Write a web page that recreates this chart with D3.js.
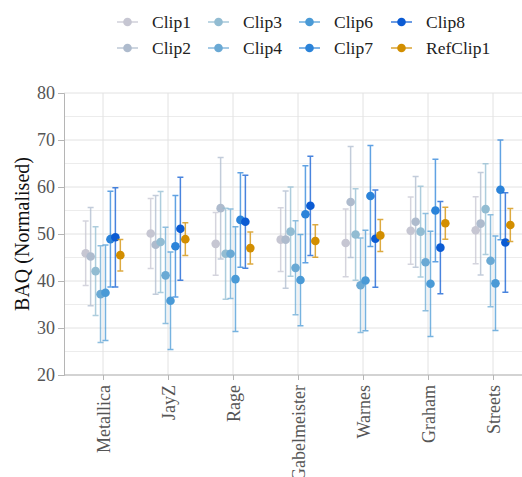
<!DOCTYPE html>
<html>
<head>
<meta charset="utf-8">
<script src="https://cdn.jsdelivr.net/npm/d3@7"></script>
<style>
  body { margin: 0; background: #fff; }
  text { font-family: 'Liberation Serif' !important; }
</style>
</head>
<body>
<div class="chart"></div>
<script>
let w = 522
let h = 477
let serifFont = "'Liberation Serif'";

// categories (singers) and series names
let artists = ["Metallica", "JayZ", "Rage", "Gabelmeister", "Warnes", "Graham", "Streets"];
let clips = ["Clip1", "Clip2", "Clip3", "Clip4", "Clip6", "Clip7", "Clip8", "RefClip1"];
let clipColors = ["#c6c6d2", "#aebbcd", "#92bcd2", "#6aa9d4", "#4a9ad6", "#2b83d9", "#0b5bd3", "#d28e00"];
let yTicks = [20, 30, 40, 50, 60, 70, 80];

// mean value per artist, for each clip
let clip1 = [45.9, 50.1, 47.9, 48.8, 48.1, 50.7, 50.8];
let clip2 = [45.2, 47.7, 55.5, 48.8, 56.8, 52.6, 52.2];
let clip3 = [42.1, 48.3, 45.8, 50.5, 49.9, 50.5, 55.3];
let clip4 = [37.2, 41.2, 45.8, 42.8, 39.1, 44.0, 44.3];
let clip6 = [37.5, 35.8, 40.4, 40.2, 40.1, 39.4, 39.5];
let clip7 = [48.9, 47.4, 53.0, 54.2, 58.1, 55.0, 59.4];
let clip8 = [49.3, 51.1, 52.6, 56.0, 49.0, 47.1, 48.2];
let refClip1 = [45.5, 48.9, 47.0, 48.5, 49.7, 52.3, 51.9];

// error bar half width
let clip1Err = [6.85, 7.45, 6.7, 6.8, 7.2, 7.15, 7.15];
let clip2Err = [10.45, 10.5, 10.8, 10.35, 11.8, 9.65, 10.9];
let clip3Err = [9.45, 10.75, 9.7, 9.5, 9.75, 9.65, 9.65];
let clip4Err = [10.3, 10.25, 9.5, 10.0, 10.05, 10.35, 9.8];
let clip6Err = [10.15, 10.35, 11.15, 9.7, 10.7, 11.2, 10.05];
let clip7Err = [10.2, 10.8, 10.05, 10.3, 10.75, 10.9, 10.6];
let clip8Err = [10.55, 10.95, 9.9, 10.55, 10.35, 9.8, 10.6];
let refClip1Err = [3.35, 3.5, 3.4, 3.45, 3.4, 3.4, 3.5];

let allMeans = [clip1, clip2, clip3, clip4, clip6, clip7, clip8, refClip1];
let allErrs = [clip1Err, clip2Err, clip3Err, clip4Err, clip6Err, clip7Err, clip8Err, refClip1Err];

let margin = {left: 64, right: 0, top: 93, bottom: 102}

let svg = d3.select(".chart")
            .append("svg")
            .attr("width", w)
            .attr("height", h)
            .attr("font-family", "Liberation Serif");

// scales
let x = d3.scalePoint()
  .domain(artists)
  .range([103, 493]);

let offset = d3.scaleBand()
  .domain(clips)
  .range([-19.8, 19.8]);

let y = d3.scaleLinear()
  .domain([20, 80])
  .range([h - margin.bottom, margin.top]);

// ---------------- grid -------------------- //
let minorTicks = d3.range(25, 80, 10);
svg.append("g")
  .selectAll("line")
  .data(minorTicks)
  .enter()
  .append("line")
  .attr("x1", margin.left).attr("x2", w)
  .attr("y1", d => y(d)).attr("y2", d => y(d))
  .attr("stroke", "#ececec");

svg.append("g")
  .selectAll("line")
  .data(yTicks)
  .enter()
  .append("line")
  .attr("x1", margin.left).attr("x2", w)
  .attr("y1", d => y(d)).attr("y2", d => y(d))
  .attr("stroke", "#e2e2e2");

svg.append("g")
  .selectAll("line")
  .data(artists)
  .enter()
  .append("line")
  .attr("x1", d => x(d)).attr("x2", d => x(d))
  .attr("y1", margin.top).attr("y2", y(20))
  .attr("stroke", "#e2e2e2");

// ---------------- axes -------------------- //
let yAxis = svg.append("g")
  .attr("transform", "translate(" + margin.left + ",0)")
  .call(d3.axisLeft(y).tickValues(yTicks).tickSize(6).tickPadding(3))
  .attr("font-family", null);
yAxis.select(".domain").attr("stroke", "#b5b5b5");
yAxis.selectAll(".tick line").attr("stroke", "#b5b5b5");
yAxis.selectAll("text")
  .attr("font-size", 18)
  .attr("fill", "#555")
  .style("font-family", serifFont);

let xAxis = svg.append("g")
  .attr("transform", "translate(0," + y(20) + ")")
  .call(d3.axisBottom(x).tickSize(5).tickSizeOuter(0))
  .attr("font-family", null);
xAxis.select(".domain").attr("stroke", "#b5b5b5").attr("d", "M" + margin.left + ",0H" + w);
xAxis.selectAll(".tick line").attr("stroke", "#b5b5b5");
xAxis.selectAll("text")
  .attr("font-size", 18)
  .attr("fill", "#555")
  .style("font-family", serifFont)
  .attr("transform", "rotate(-90)")
  .attr("text-anchor", "end")
  .attr("x", -10)
  .attr("y", 0)
  .attr("dy", "0.35em");

svg.append("text")
  .attr("transform", "translate(29," + (y(50)) + ") rotate(-90)")
  .attr("text-anchor", "middle")
  .attr("font-size", 20)
  .attr("fill", "#111")
  .style("font-family", serifFont)
  .text("BAQ (Normalised)");

// ---------------- error bars + points -------------------- //
for (let k = 0; k < clips.length; k++) {
  let rows = artists.map((a, i) => ({artist: a, mean: allMeans[k][i], err: allErrs[k][i]}));
  let cx = d => x(d.artist) + offset(clips[k]) + offset.bandwidth() / 2;
  let g = svg.append("g").attr("class", "series");

  g.selectAll(".bar")
    .data(rows)
    .enter()
    .append("path")
    .attr("d", d => {
      let xx = cx(d), t = y(d.mean + d.err), b = y(d.mean - d.err);
      return "M" + (xx - 3) + "," + t + "H" + (xx + 3) + "M" + xx + "," + t + "V" + b +
             "M" + (xx - 3) + "," + b + "H" + (xx + 3);
    })
    .attr("fill", "none")
    .attr("stroke", clipColors[k])
    .attr("stroke-width", 1.5)
    .attr("opacity", 0.75);

  g.selectAll("circle")
    .data(rows)
    .enter()
    .append("circle")
    .attr("cx", cx)
    .attr("cy", d => y(d.mean))
    .attr("r", 4.3)
    .attr("fill", clipColors[k]);
}

// ---------------- legend -------------------- //
let legendX = [117, 208, 299, 391];
let legendY = [22, 48];
let legend = svg.append("g");
clips.forEach((c, k) => {
  let lx = legendX[Math.floor(k / 2)];
  let ly = legendY[k % 2];
  legend.append("line")
    .attr("x1", lx).attr("x2", lx + 21)
    .attr("y1", ly).attr("y2", ly)
    .attr("stroke", clipColors[k])
    .attr("stroke-width", 1.5)
    .attr("opacity", 0.8);
  legend.append("circle")
    .attr("cx", lx + 10.5).attr("cy", ly).attr("r", 4.3)
    .attr("fill", clipColors[k]);
  legend.append("text")
    .attr("x", lx + 35).attr("y", ly)
    .attr("dy", "0.35em")
    .attr("font-size", 17.5)
    .attr("fill", "#222")
    .style("font-family", serifFont)
    .text(c);
});
</script>
</body>
</html>
